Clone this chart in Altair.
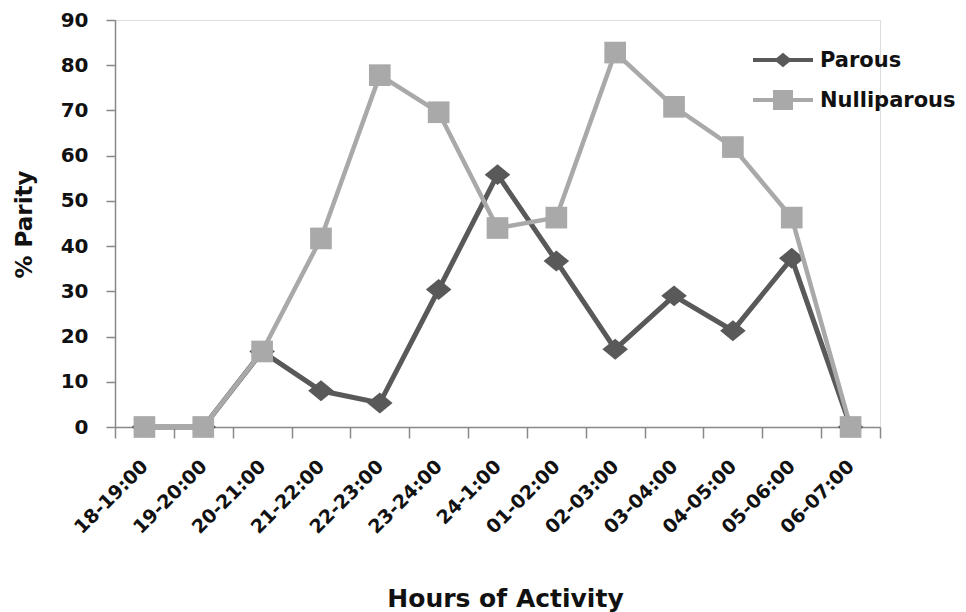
import altair as alt
import pandas as pd

# Hourly activity windows
categories = ["18-19:00", "19-20:00", "20-21:00", "21-22:00", "22-23:00",
              "23-24:00", "24-1:00", "01-02:00", "02-03:00", "03-04:00",
              "04-05:00", "05-06:00", "06-07:00"]

# Percentage of females by parity status in each window
parous = [0, 0, 16.7, 8.0, 5.3, 30.4, 55.8, 36.7, 17.2, 29.0, 21.3, 37.3, 0]
nulliparous = [0, 0, 16.7, 41.7, 77.8, 69.6, 44.0, 46.3, 82.8, 70.8, 61.9, 46.3, 0]

series_names = ["Parous", "Nulliparous"]
series_values = [parous, nulliparous]
series_colors = ["#595959", "#A9A9A9"]
# slightly flattened diamond and a plain square
series_shapes = ["M-1.1,0L0,-0.9L1.1,0L0,0.9Z", "square"]
series_widths = [5, 4.5]
series_sizes = [540, 470]
legend_sizes = [260, 400]

FONT = "DejaVu Sans"
AXIS_GREY = "#888888"

x_enc = alt.X(
    "hour:N",
    sort=categories,
    scale=alt.Scale(domain=categories, paddingInner=0, paddingOuter=0),
    axis=alt.Axis(
        title="Hours of Activity",
        titleFont=FONT, titleFontSize=25, titleFontWeight="bold", titleColor="#111111",
        titleY=179, titleBaseline="alphabetic", titleX=390,
        labelFont=FONT, labelFontSize=19, labelFontWeight="bold", labelColor="#111111",
        labelAngle=-45, labelAlign="right", labelBaseline="middle", labelPadding=25,
        tickBand="extent", tickSize=11, tickColor=AXIS_GREY, tickWidth=1.5,
        domainColor=AXIS_GREY, domainWidth=1.5, grid=False,
    ),
)
y_enc = alt.Y(
    "pct:Q",
    scale=alt.Scale(domain=[0, 90], nice=False, zero=True),
    axis=alt.Axis(
        title="% Parity",
        titleFont=FONT, titleFontSize=23, titleFontWeight="bold", titleColor="#111111",
        titleX=-91, titleY=204, titleAlign="center", titleBaseline="middle", titleAngle=-90,
        labelFont=FONT, labelFontSize=20, labelFontWeight="bold", labelColor="#111111",
        labelPadding=18,
        values=list(range(0, 91, 10)),
        tickSize=9, tickColor=AXIS_GREY, tickWidth=1.5,
        domainColor=AXIS_GREY, domainWidth=1.5, grid=False,
    ),
)

layers = []
for i, (name, vals) in enumerate(zip(series_names, series_values)):
    df = pd.DataFrame({"hour": categories, "pct": vals, "series": name})
    base = alt.Chart(df).encode(x=x_enc, y=y_enc)
    layers.append(base.mark_line(color=series_colors[i], strokeWidth=series_widths[i]))
    layers.append(base.mark_point(shape=series_shapes[i], size=series_sizes[i],
                                  filled=True, opacity=1, color=series_colors[i]))

# Legend: a short line with its marker, then the series name
legend_rows = [40, 80]
for i, name in enumerate(series_names):
    ldf = pd.DataFrame({"series": [name]})
    lb = alt.Chart(ldf)
    layers.append(lb.mark_rule(color=series_colors[i], strokeWidth=4).encode(
        x=alt.value(638), x2=alt.value(698), y=alt.value(legend_rows[i])))
    layers.append(lb.mark_point(shape=series_shapes[i], size=legend_sizes[i], filled=True,
                                opacity=1, color=series_colors[i]).encode(
        x=alt.value(668), y=alt.value(legend_rows[i])))
    layers.append(lb.mark_text(align="left", baseline="middle", font=FONT, fontSize=21,
                               fontWeight="bold", color="#111111").encode(
        x=alt.value(705), y=alt.value(legend_rows[i] + 1), text="series:N"))

chart = alt.layer(*layers).properties(
    width=765, height=407,
    autosize=alt.AutoSizeParams(type="none"),
    padding={"left": 115, "top": 20, "right": 86, "bottom": 185},
).configure_view(stroke=None).configure(background="white")

chart.save("out.html", embed_options={"renderer": "svg", "actions": False})
